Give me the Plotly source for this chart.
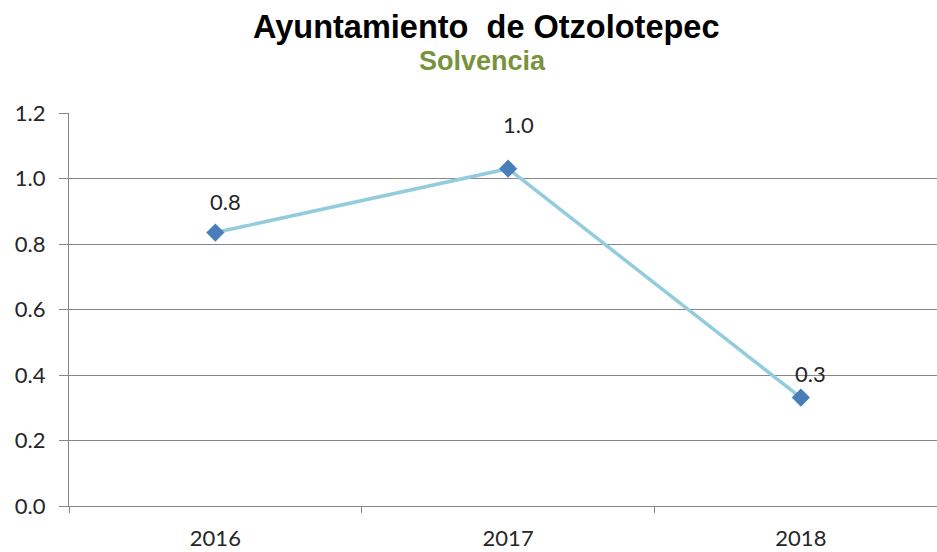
import plotly.graph_objects as go

years = ["2016", "2017", "2018"]
solvencia = [0.835, 1.030, 0.331]
labels = ["0.8", "1.0", "0.3"]
label_shift = [-31, -44, -24]
y_ticks = [0.0, 0.2, 0.4, 0.6, 0.8, 1.0, 1.2]

title_main = "Ayuntamiento  de Otzolotepec"
title_sub = "Solvencia"

fig = go.Figure()
fig.add_trace(go.Scatter(
    x=years, y=solvencia, mode="lines+markers",
    line=dict(color="#93CDDD", width=3.5),
    marker=dict(symbol="diamond", size=14, color="#4A7EBB"),
    hoverinfo="skip", showlegend=False,
))

for i, (yv, lab, sh) in enumerate(zip(solvencia, labels, label_shift)):
    fig.add_annotation(x=i, y=yv, text=lab, showarrow=False, xshift=10, yshift=-sh,
                       font=dict(family="Lato", size=22, color="#262626"))

W, H = 937, 552
L, R, T, B = 68.5, 0, 113, 46
pw, ph = W - L - R, H - T - B
fig.add_annotation(xref="paper", yref="paper", x=(486 - L) / pw, y=1 + (T - 27.5) / ph,
                   text="<b>" + title_main + "</b>", showarrow=False, xanchor="center", yanchor="middle",
                   font=dict(family="Liberation Sans", size=32.5, color="#000000"))
fig.add_annotation(xref="paper", yref="paper", x=(482 - L) / pw, y=1 + (T - 61.5) / ph,
                   text="<b>" + title_sub + "</b>", showarrow=False, xanchor="center", yanchor="middle",
                   font=dict(family="Liberation Sans", size=27, color="#77933C"))

fig.update_layout(
    width=W, height=H,
    margin=dict(l=L, r=R, t=T, b=B),
    paper_bgcolor="white", plot_bgcolor="white",
    xaxis=dict(type="category", range=[-0.5, 2.465], tickson="boundaries",
               ticks="outside", ticklen=6, tickcolor="#868686", showgrid=False,
               showline=True, linecolor="#868686", linewidth=1.3, ticklabelstandoff=12,
               tickfont=dict(family="Lato", size=22, color="#262626")),
    yaxis=dict(range=[0, 1.2], tickvals=y_ticks, tickformat=".1f",
               ticks="outside", ticklen=9, tickcolor="#868686",
               showgrid=True, gridcolor="#868686", gridwidth=1,
               showline=True, linecolor="#868686", linewidth=1.3, zeroline=False,
               ticklabelstandoff=9,
               tickfont=dict(family="Lato", size=22, color="#262626")),
)

fig.write_html("out.html", config={"displayModeBar": False},
               post_script="document.body.style.margin='0';document.body.style.overflow='hidden';")
